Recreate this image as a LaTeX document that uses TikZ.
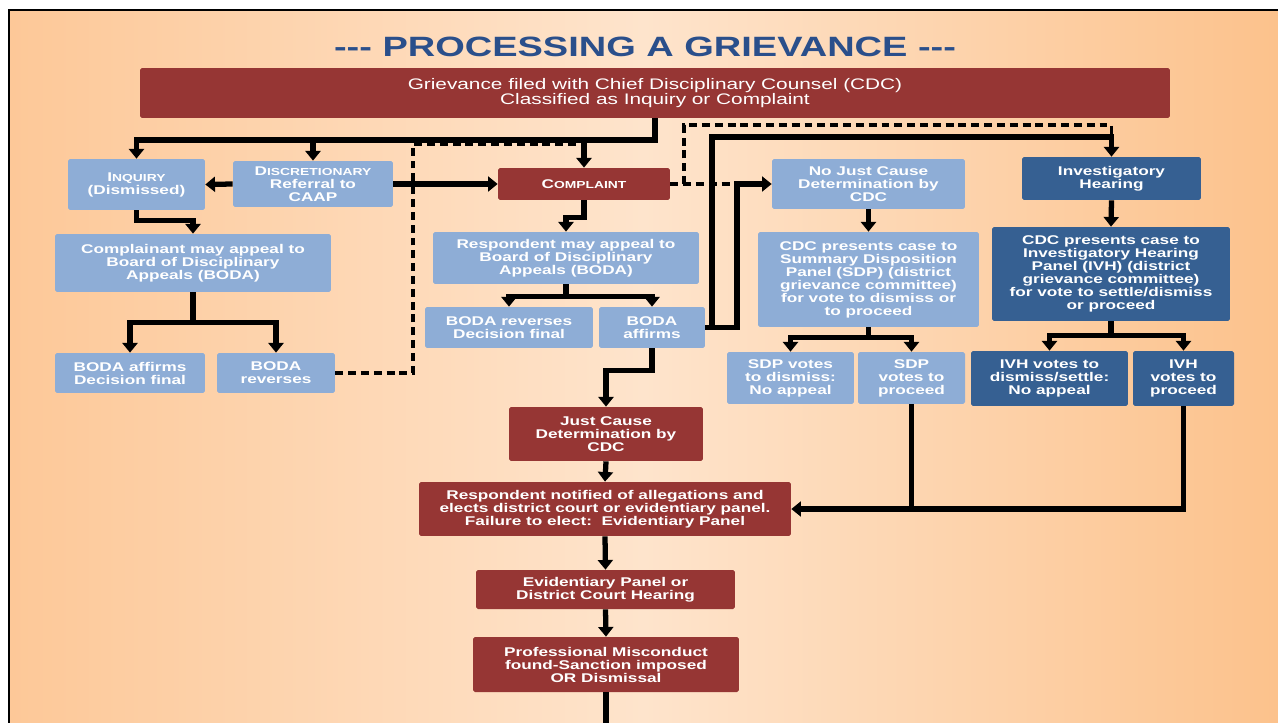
\documentclass[tikz,border=0pt]{standalone}
\usepackage{fontspec}
\usepackage{xcolor}
\usepackage{tikz}
\usetikzlibrary{arrows.meta}
\newfontfamily\slidefont[FakeStretch=1.36]{Liberation Sans}
\definecolor{gvred}{RGB}{150,54,52}
\definecolor{gvlight}{RGB}{142,173,214}
\definecolor{gvdark}{RGB}{54,96,146}
\definecolor{gvtitle}{RGB}{42,79,139}
\definecolor{bgleft}{RGB}{253,200,152}
\definecolor{bgmid}{RGB}{254,228,204}
\definecolor{bgright}{RGB}{252,194,140}
\newcommand{\fakesc}[2]{{\fontsize{7.2}{7.4}\selectfont #1}{\fontsize{5.8}{7.4}\selectfont #2}}

\begin{document}
\begin{tikzpicture}[x=0.02cm, y=-0.02cm,
    box/.style={rectangle, rounded corners=1pt, align=center, text=white, inner sep=0pt, font=\slidefont\bfseries\fontsize{7.2}{7.4}\selectfont},
    redbox/.style={box, fill=gvred},
    ltbox/.style={box, fill=gvlight},
    dkbox/.style={box, fill=gvdark},
    link/.style={line width=3pt, line join=miter},
    arr/.style={link, -{Triangle[width=8.5pt,length=5.5pt]}},
    dashlink/.style={line width=1.9pt, dash pattern=on 4.5pt off 2.8pt}]
    \useasboundingbox (0,0) rectangle (1278,723);
    \fill[white] (0,0) rectangle (1278,723);
    \shade[left color=bgleft, right color=bgright, middle color=bgmid] (9,10) rectangle (1278,723);
    \draw[line width=1.2pt] (9,723) -- (9,10) -- (1278,10);

    \node[font=\slidefont\bfseries\fontsize{15.9}{16}\selectfont, text=gvtitle] (title) at (645,47) {\hbox{-}\hbox{-}\hbox{-} PROCESSING A GRIEVANCE \hbox{-}\hbox{-}\hbox{-}};
    \node[redbox, minimum width=20.6cm, minimum height=1.0cm, font=\slidefont\fontsize{8.7}{8.6}\selectfont] (grievance) at (655,93) {Grievance filed with Chief Disciplinary Counsel (CDC)\\Classified as Inquiry or Complaint};

    \node[ltbox, minimum width=2.74cm, minimum height=1.02cm] (inquiry) at (136.5,184.5) {\fakesc{I}{NQUIRY}\\(Dismissed)};
    \node[ltbox, minimum width=3.2cm, minimum height=0.92cm] (disc) at (313,184) {\fakesc{D}{ISCRETIONARY}\\Referral to\\CAAP};
    \node[ltbox, minimum width=5.52cm, minimum height=1.16cm] (capp) at (193,263) {Complainant may appeal to\\Board of Disciplinary\\Appeals (BODA)};
    \node[ltbox, minimum width=3.0cm, minimum height=0.8cm] (bodaaffL) at (130,373) {BODA affirms\\Decision final};
    \node[ltbox, minimum width=2.36cm, minimum height=0.8cm] (bodarevL) at (276,373) {BODA\\reverses};

    \node[redbox, minimum width=3.44cm, minimum height=0.64cm] (complaint) at (584,184) {\fakesc{C}{OMPLAINT}};
    \node[ltbox, minimum width=5.32cm, minimum height=1.04cm] (rapp) at (566,258) {Respondent may appeal to\\Board of Disciplinary\\Appeals (BODA)};
    \node[ltbox, minimum width=3.36cm, minimum height=0.82cm] (bodarevM) at (509,327.5) {BODA reverses\\Decision final};
    \node[ltbox, minimum width=2.12cm, minimum height=0.82cm] (bodaaffM) at (652,327.5) {BODA\\affirms};

    \node[ltbox, minimum width=3.86cm, minimum height=1.0cm] (nojust) at (868.5,184) {No Just Cause\\Determination by\\CDC};
    \node[ltbox, minimum width=4.42cm, minimum height=1.9cm] (sdp) at (868.5,279.5) {CDC presents case to\\Summary Disposition\\Panel (SDP) (district\\grievance committee)\\for vote to dismiss or\\to proceed};
    \node[ltbox, minimum width=2.54cm, minimum height=1.04cm] (sdpdis) at (790.5,378) {SDP votes\\to dismiss:\\No appeal};
    \node[ltbox, minimum width=2.14cm, minimum height=1.04cm] (sdppro) at (911.5,378) {SDP\\votes to\\proceed};

    \node[dkbox, minimum width=3.58cm, minimum height=0.86cm] (invhear) at (1111.5,178.5) {Investigatory\\Hearing};
    \node[dkbox, minimum width=4.76cm, minimum height=1.88cm] (ivh) at (1111,274) {CDC presents case to\\Investigatory Hearing\\Panel (IVH) (district\\grievance committee)\\for vote to settle/dismiss\\or proceed};
    \node[dkbox, minimum width=3.14cm, minimum height=1.1cm] (ivhdis) at (1049.5,378.5) {IVH votes to\\dismiss/settle:\\No appeal};
    \node[dkbox, minimum width=2.02cm, minimum height=1.1cm] (ivhpro) at (1183.5,378.5) {IVH\\votes to\\proceed};

    \node[redbox, minimum width=3.88cm, minimum height=1.08cm] (justcause) at (606,434) {Just Cause\\Determination by\\CDC};
    \node[redbox, minimum width=7.44cm, minimum height=1.08cm] (notified) at (605,509) {Respondent notified of allegations and\\elects district court or evidentiary panel.\\Failure to elect:\ \ Evidentiary Panel};
    \node[redbox, minimum width=5.18cm, minimum height=0.78cm] (evid) at (605.5,589.5) {Evidentiary Panel or\\District Court Hearing};
    \node[redbox, minimum width=5.32cm, minimum height=1.1cm] (misconduct) at (606,664.5) {Professional Misconduct\\found-Sanction imposed\\OR Dismissal};

    \coordinate (split) at (655,140);
    \coordinate (dashtop) at (413,144);
    \coordinate (ihtop) at (712,137);
    \coordinate (njx) at (737,184);
    \coordinate (dashsplit) at (684,184);
    \coordinate (dashtop2) at (684,125);
    \coordinate (exit) at (606,723);

    \draw[dashlink] (bodarevL.east) -| (dashtop) -- (complaint.north |- dashtop);
    \draw[dashlink] (complaint.east) -- (njx);
    \draw[dashlink] (dashsplit) |- (invhear.north |- dashtop2) -- (invhear.north |- ihtop);

    \draw[arr] (grievance.south -| split) -- (split) -| (inquiry.north);
    \draw[arr] (disc.north |- split) -- (disc.north);
    \draw[arr] (complaint.north |- split) -- (complaint.north);
    \draw[arr] (disc.west) -- (inquiry.east);
    \draw[arr] (disc.east) -- (complaint.west);
    \draw[arr] (inquiry.south) -- ++(0,10) -| (capp.north);
    \draw[link] (capp.south) -- ++(0,30) coordinate (cj);
    \draw[arr] (cj) -| (bodaaffL.north);
    \draw[arr] (cj) -| (bodarevL.north);

    \draw[arr] (complaint.south) -- ++(0,17) -| (rapp.north);
    \draw[link] (rapp.south) -- ++(0,12) coordinate (rj);
    \draw[arr] (rj) -| (bodarevM.north);
    \draw[arr] (rj) -| (bodaaffM.north);
    \draw[arr] (bodaaffM.south) -- ++(0,22) -| (justcause.north);
    \draw[arr] (bodaaffM.east) -| (ihtop) -| (invhear.north);
    \draw[arr] (bodaaffM.east) -| (njx) -- (nojust.west);

    \draw[arr] (nojust.south) -- (sdp.north);
    \draw[link] (sdp.south) -- ++(0,10) coordinate (sj);
    \draw[arr] (sj) -| (sdpdis.north);
    \draw[arr] (sj) -| (sdppro.north);
    \draw[arr] (invhear.south) -- (ivh.north);
    \draw[link] (ivh.south) -- ++(0,14) coordinate (ij);
    \draw[arr] (ij) -| (ivhdis.north);
    \draw[arr] (ij) -| (ivhpro.north);

    \draw[link] (ivhpro.south) |- (sdppro.south |- notified.east);
    \draw[arr] (sdppro.south) |- (notified.east);
    \draw[arr] (justcause.south) -- (notified.north);
    \draw[arr] (notified.south) -- (evid.north);
    \draw[arr] (evid.south) -- (misconduct.north);
    \draw[link] (misconduct.south) -- (exit);
\end{tikzpicture}
\end{document}
